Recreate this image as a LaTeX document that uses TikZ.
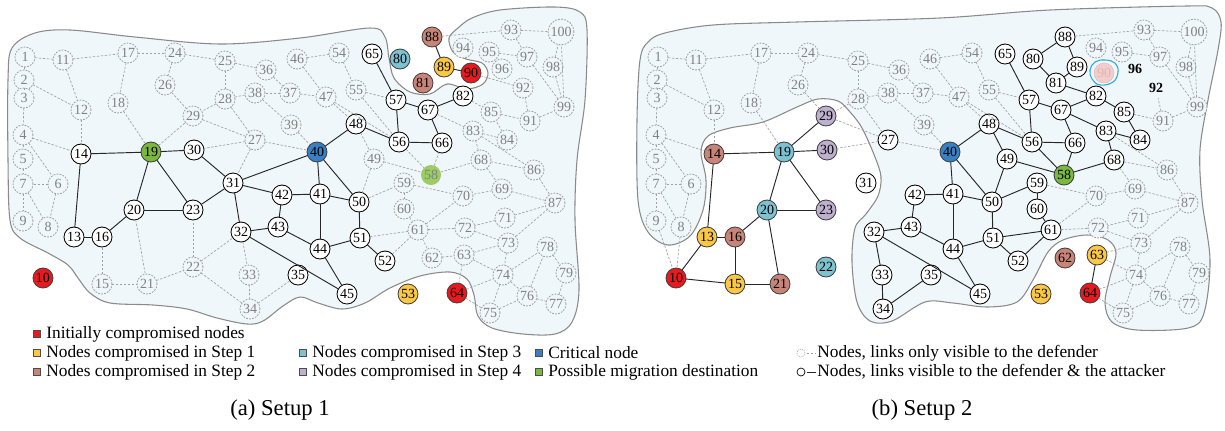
\documentclass[tikz,border=0pt]{standalone}
\usepackage{fontspec}
\setmainfont{Liberation Serif}
\definecolor{ce8191f}{RGB}{232,25,31}
\definecolor{cfbc845}{RGB}{251,200,69}
\definecolor{cc98478}{RGB}{201,132,120}
\definecolor{c7cc2d0}{RGB}{124,194,208}
\definecolor{cbeb0ce}{RGB}{190,176,206}
\definecolor{c3a7fc4}{RGB}{58,127,196}
\definecolor{c7ab840}{RGB}{122,184,64}
\definecolor{c9ccc64}{RGB}{156,204,100}
\definecolor{cf0f7fb}{RGB}{240,247,251}
\definecolor{c8a8a8a}{RGB}{138,138,138}
\definecolor{c808080}{RGB}{128,128,128}
\definecolor{ca0a0a0}{RGB}{160,160,160}
\definecolor{cf2caca}{RGB}{242,205,205}
\definecolor{ce3b4b4}{RGB}{227,180,180}
\definecolor{c29a9e0}{RGB}{41,169,224}

\begin{document}
\begin{tikzpicture}[y=0.75pt, x=0.75pt, yscale=-1, inner sep=0pt, outer sep=0pt,
  font=\fontsize{10.5}{12}\selectfont,
  nbase/.style={circle, minimum size=15pt, inner sep=0.8pt, line width=0.65pt},
  nhid/.style={nbase, draw=ca0a0a0, dash pattern=on 1.3pt off 1pt, fill=cf0f7fb, text=c808080},
  nvis/.style={nbase, draw=black, fill=white},
  nred/.style={nbase, draw=black!75, fill=ce8191f},
  nyel/.style={nbase, draw=black!75, fill=cfbc845},
  npnk/.style={nbase, draw=black!75, fill=cc98478},
  ncyn/.style={nbase, draw=black!75, fill=c7cc2d0},
  npur/.style={nbase, draw=black!75, fill=cbeb0ce},
  nblu/.style={nbase, draw=black!75, fill=c3a7fc4},
  ngrn/.style={nbase, draw=black!75, fill=c7ab840},
  ngrnh/.style={nbase, fill=c9ccc64, text=c808080},
  ntxt/.style={nbase, font=\fontsize{10.5}{12}\selectfont\bfseries},
  nghost/.style={nbase, draw=ce3b4b4, line width=0.3pt, fill=cf2caca, text=ce3b4b4},
  ldash/.style={draw=ca0a0a0, line width=0.5pt, dash pattern=on 1.8pt off 1.2pt},
  lsolid/.style={draw=black!85, line width=0.7pt},
  blob/.style={draw=c8a8a8a, fill=cf0f7fb, line width=0.8pt},
  lgsq/.style={rectangle, minimum size=5.5pt, draw=black!70, line width=0.4pt},
  lgtxt/.style={anchor=west, inner sep=1pt, font=\fontsize{13}{14}\selectfont},
]
\useasboundingbox (0,0) rectangle (1225,430);

% regions
\path[blob] plot[smooth cycle, tension=0.55] coordinates {
  (8,80) (12,48) (35,33) (70,30) (135,37) (220,44) (300,38) (370,28) (385,37)
  (389,58) (394,78) (410,92) (430,94) (447,84) (467,89) (483,84) (488,73)
  (482,63) (466,59) (453,52) (449,38) (458,28) (472,18) (500,10) (555,7)
  (580,12) (587,30) (585,100) (577,160) (575,220) (579,290) (572,322)
  (555,334) (523,334) (492,328) (478,316) (474,295) (467,279) (450,272)
  (420,276) (390,288) (365,303) (342,309) (318,303) (300,297) (283,306)
  (263,321) (247,324) (217,318) (187,309) (153,305) (110,303) (90,293)
  (78,278) (68,265) (48,253) (20,238) (10,220) (8,160)};
\path[blob] plot[smooth cycle, tension=0.55] coordinates {
  (637,120) (640,60) (648,42) (665,33) (713,25) (797,22) (940,18) (1050,10)
  (1187,6) (1212,8) (1221,22) (1218,50) (1208,100) (1200,150) (1202,200)
  (1210,260) (1204,313) (1188,328) (1137,330) (1112,322) (1105,303)
  (1110,277) (1116,253) (1108,240) (1087,235) (1063,240) (1048,252)
  (1033,280) (1017,302) (987,307) (953,303) (925,302) (892,321) (870,321)
  (857,302) (852,262) (855,228) (866,214) (878,196) (881,177) (875,157)
  (862,128) (850,112) (838,101) (818,99) (797,107) (763,122) (730,128)
  (708,136) (701,152) (706,180) (703,210) (690,236) (668,245) (648,232)
  (638,200)};

% nodes: number / x / y / setup 1 / setup 2
\foreach \n/\x/\y/\sa/\sb in {
  1/25/57/nhid/nhid, 2/24/80/nhid/nhid, 3/24/98/nhid/nhid, 4/23/135/nhid/nhid,
  5/23/159/nhid/nhid, 6/58/184/nhid/nhid, 7/23/184/nhid/nhid, 8/48/227/nhid/nhid,
  9/23/221/nhid/nhid, 10/43/278/nred/nred, 11/63/60/nhid/nhid, 12/81/110/nhid/nhid,
  13/74/237/nvis/nyel, 14/81/154/nvis/npnk, 15/102/284/nhid/nyel, 16/102/237/nvis/npnk,
  17/128/53/nhid/nhid, 18/118/103/nhid/nhid, 19/151/152/ngrn/ncyn, 20/134/210/nvis/ncyn,
  21/147/284/nhid/npnk, 22/193/267/nhid/ncyn, 23/193/210/nvis/npur, 24/175/53/nhid/nhid,
  25/225/61/nhid/nhid, 26/165/85/nhid/nhid, 27/255/140/nhid/nvis, 28/225/99/nhid/nhid,
  29/193/116/nhid/npur, 30/194/150/nvis/npur, 31/233/183/nvis/nvis, 32/241/232/nvis/nvis,
  33/249/275/nhid/nvis, 34/250/309/nhid/nvis, 35/298/275/nvis/nvis, 36/266/70/nhid/nhid,
  37/290/93/nhid/nhid, 38/255/93/nhid/nhid, 39/291/125/nhid/nhid, 40/317/152/nblu/nblu,
  41/320/194/nvis/nvis, 42/282/195/nvis/nvis, 43/278/227/nvis/nvis, 44/320/249/nvis/nvis,
  45/347/294/nvis/nvis, 46/297/59/nhid/nhid, 47/326/97/nhid/nhid, 48/356/124/nvis/nvis,
  49/374/159/nhid/nvis, 50/359/202/nvis/nvis, 51/360/238/nvis/nvis, 52/385/261/nvis/nvis,
  53/408/294/nyel/nyel, 54/339/53/nhid/nhid, 55/356/90/nhid/nhid, 56/399/142/nvis/nvis,
  57/396/100/nvis/nvis, 58/431/175/ngrnh/ngrn, 59/404/183/nhid/nvis, 60/404/209/nhid/nvis,
  61/418/230/nhid/nvis, 62/432/258/nhid/npnk, 63/464/255/nhid/nyel, 64/457/293/nred/nred,
  65/372/54/nvis/nvis, 66/442/143/nvis/nvis, 67/428/110/nvis/nvis, 68/481/160/nhid/nvis,
  69/502/189/nhid/nhid, 70/463/196/nhid/nhid, 71/505/218/nhid/nhid, 72/465/228/nhid/nhid,
  73/508/243/nhid/nhid, 74/503/275/nhid/nhid, 75/490/313/nhid/nhid, 76/527/296/nhid/nhid,
  77/556/304/nhid/nhid, 78/547/247/nhid/nhid, 79/566/273/nhid/nhid, 80/400/59/ncyn/nvis,
  81/423/83/npnk/nvis, 82/463/96/nvis/nvis, 83/473/131/nhid/nvis, 84/507/140/nhid/nvis,
  85/491/112/nhid/nvis, 86/534/170/nhid/nhid, 87/555/203/nhid/nhid, 88/432/37/npnk/nvis,
  89/444/67/nyel/nvis, 90/471/73/nred/nghost, 91/530/121/nhid/nhid, 92/523/88/nhid/ntxt,
  93/511/30/nhid/nhid, 94/463/48/nhid/nhid, 95/489/52/nhid/nhid, 96/502/69/nhid/ntxt,
  97/527/57/nhid/nhid, 98/553/67/nhid/nhid, 99/564/107/nhid/nhid, 100/561/32/nhid/nhid}{
  \node[\sa] (a\n) at (\x,\y) {\n};
  \node[\sb] (b\n) at ({\x+633},\y) {\n};
}

% links seen by the defender only, in both setups
\foreach \u/\v in {1/11, 1/2, 2/3, 2/12, 11/12, 11/17, 17/24, 17/18, 24/25, 24/26,
  25/36, 25/28, 36/37, 37/38, 28/38, 28/29, 26/29, 27/29, 27/28, 38/39, 3/4, 4/5,
  4/14, 4/6, 5/7, 6/7, 7/9, 7/8, 6/8, 12/14, 18/19, 27/30, 27/40, 39/40, 46/54,
  46/47, 37/47, 47/48, 47/56, 54/55, 55/56, 55/57, 59/70, 61/70, 61/72, 71/72,
  72/73, 69/70, 68/69, 69/87, 71/87, 73/87, 86/87, 68/86, 83/86, 73/74, 63/73,
  63/74, 74/78, 64/74, 64/75, 74/75, 74/76, 75/76, 76/78, 76/77, 78/79, 77/79,
  85/91, 91/92, 91/99, 97/99, 98/99, 98/100, 99/100, 93/100, 93/97, 95/97, 88/93}{
  \draw[ldash] (a\u) -- (a\v);
  \draw[ldash] (b\u) -- (b\v);
}
\foreach \u/\v in {19/29, 27/31, 15/16, 15/21, 20/21, 21/22, 22/23, 22/32, 22/34,
  32/33, 33/34, 34/35, 48/49, 49/50, 49/58, 56/58, 58/66, 58/68, 50/59, 59/60,
  60/61, 51/61, 52/61, 61/62, 62/63, 63/64, 67/83, 68/83, 83/84, 84/85, 82/85,
  90/92}
  \draw[ldash] (a\u) -- (a\v);
\foreach \u/\v in {9/10, 8/10}
  \draw[ldash] (b\u) -- (b\v);

% links seen by the attacker too
\foreach \u/\v in {14/19, 13/14, 13/16, 16/20, 19/20, 19/23, 19/30, 20/23, 23/31,
  30/31, 31/40, 31/42, 31/32, 41/42, 42/43, 32/43, 43/44, 32/45, 40/41, 41/44,
  41/50, 40/50, 40/48, 44/45, 44/51, 50/51, 51/52, 48/56, 56/57, 56/66, 57/65,
  57/67, 66/67, 67/82, 88/89, 89/90}
  \draw[lsolid] (a\u) -- (a\v);
\foreach \u/\v in {14/19, 13/14, 10/13, 13/16, 10/15, 15/16, 15/21, 16/20, 19/20,
  20/21, 20/23, 19/23, 19/29, 19/30, 32/33, 33/34, 34/35, 32/45, 32/43, 42/43,
  43/44, 41/42, 40/41, 41/44, 41/50, 40/50, 40/48, 44/45, 44/51, 50/51, 51/52,
  51/61, 52/61, 50/59, 59/60, 60/61, 48/49, 49/50, 49/58, 48/56, 56/57, 56/66,
  56/58, 58/66, 66/67, 57/67, 57/65, 67/82, 67/83, 58/68, 68/83, 83/84, 84/85,
  82/85, 81/82, 80/81, 80/88, 88/89, 81/89, 63/64}
  \draw[lsolid] (b\u) -- (b\v);

% migrated node
\draw[c29a9e0, line width=0.8pt] plot[smooth cycle, tension=0.7] coordinates {
  (1090,70) (1095,62) (1105,60) (1115,63) (1118,72) (1113,82) (1100,85) (1092,79)};

% legend
\node[lgsq, fill=ce8191f] (sqini) at (37,334) {};
\node[lgtxt] (txini) at (45,334) {Initially compromised nodes};
\node[lgsq, fill=cfbc845] (sqone) at (37,353) {};
\node[lgtxt] (txone) at (45,353) {Nodes compromised in Step 1};
\node[lgsq, fill=cc98478] (sqtwo) at (37,372) {};
\node[lgtxt] (txtwo) at (45,372) {Nodes compromised in Step 2};
\node[lgsq, fill=c7cc2d0] (sqthr) at (303,353) {};
\node[lgtxt] (txthr) at (311,353) {Nodes compromised in Step 3};
\node[lgsq, fill=cbeb0ce] (sqfou) at (303,372) {};
\node[lgtxt] (txfou) at (311,372) {Nodes compromised in Step 4};
\node[lgsq, fill=c3a7fc4] (sqcri) at (539,353) {};
\node[lgtxt] (txcri) at (547,353) {Critical node};
\node[lgsq, fill=c7ab840] (sqmig) at (539,372) {};
\node[lgtxt] (txmig) at (547,372) {Possible migration destination};
\node[circle, minimum size=6pt, draw=ca0a0a0, line width=0.4pt,
  dash pattern=on 0.8pt off 0.7pt] (lgdef) at (801,353) {};
\node[lgtxt] (txdef) at (816,353) {Nodes, links only visible to the defender};
\draw[ldash] ([xshift=1.5pt]lgdef.east) -- (txdef.west);
\node[circle, minimum size=6pt, draw=black, line width=0.5pt] (lgatt) at (801,372) {};
\node[lgtxt] (txatt) at (816,372) {Nodes, links visible to the defender \& the attacker};
\draw[lsolid, line width=0.6pt] ([xshift=1.5pt]lgatt.east) -- (txatt.west);

% captions
\node[font=\fontsize{17}{20}\selectfont] (capa) at (280,410) {(a) Setup 1};
\node[font=\fontsize{17}{20}\selectfont] (capb) at (922,410) {(b) Setup 2};
\end{tikzpicture}
\end{document}
